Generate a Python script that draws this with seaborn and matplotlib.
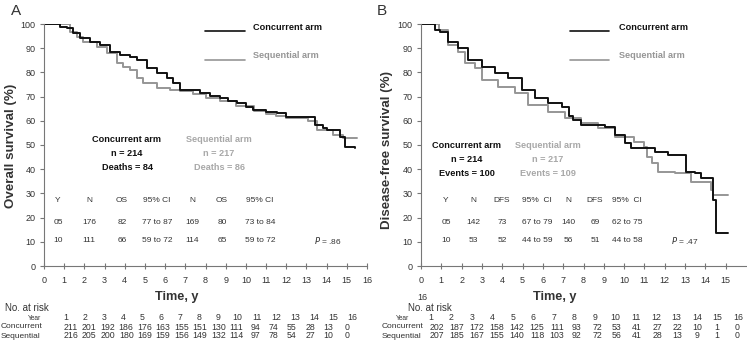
import pandas as pd
import matplotlib.pyplot as plt
import numpy as np
import seaborn as sns

# survival curves (years, % surviving), step functions
a_conc_t = [0, 0.8, 1.12, 1.45, 1.78, 2.28, 2.77, 3.27, 3.76, 4.26, 4.59, 5.08, 5.58, 6.07, 6.4, 6.73,
            7.72, 8.2, 8.71, 9.1, 9.54, 10.0, 10.36, 11.0, 11.52, 12.0, 13.42, 13.83, 14.0, 14.65, 14.9, 15.4]
a_conc_s = [100, 98.9, 98.2, 96.2, 94.1, 92.7, 91.3, 88.6, 87.2, 86.5, 85.1, 81.7, 79.6, 77.6, 75.5, 72.7,
            71.4, 70.3, 69.3, 68.2, 67.2, 65.8, 64.5, 63.8, 63.1, 61.7, 58.3, 56.9, 56.2, 53.4, 49.3, 48.6]
a_seq_t = [0, 1.29, 1.62, 1.95, 2.61, 3.1, 3.6, 3.93, 4.26, 4.59, 4.92, 5.58, 6.24, 6.73, 7.4, 8.0,
           8.7, 9.5, 10.4, 11.0, 11.5, 12.0, 13.1, 13.5, 14.32, 14.82, 15.48]
a_seq_s = [100, 96.8, 94.8, 92.7, 90.6, 87.9, 83.8, 82.4, 81.0, 77.6, 75.5, 73.4, 72.7, 72.2, 71.0, 69.5,
           68.0, 66.0, 64.0, 63.0, 62.0, 61.0, 60.0, 56.2, 54.1, 52.8, 52.8]

b_conc_t = [0, 0.69, 0.93, 1.34, 1.84, 2.33, 2.98, 3.64, 4.29, 4.95, 5.61, 6.26, 6.92, 7.3, 7.5, 7.9,
            9.05, 9.54, 10.03, 10.36, 11.5, 12.16, 13.07, 13.48, 13.8, 14.38, 14.54, 15.12]
b_conc_s = [100, 97.5, 96.8, 92.7, 90.0, 85.1, 82.4, 79.6, 77.6, 72.7, 69.3, 67.2, 65.8, 62.0, 60.3, 58.3,
            57.6, 54.1, 50.7, 48.6, 47.2, 45.9, 39.0, 38.3, 36.2, 27.3, 13.5, 13.5]
b_seq_t = [0, 0.9, 1.34, 1.84, 2.16, 2.66, 2.98, 3.8, 4.62, 5.28, 6.26, 7.08, 7.9, 8.72, 9.54, 10.5,
           11.0, 11.15, 11.35, 11.67, 12.49, 13.3, 14.3, 14.38, 15.12]
b_seq_s = [100, 97.5, 91.3, 88.5, 83.8, 81.7, 76.9, 74.1, 71.4, 66.5, 63.8, 61.0, 59.0, 56.9, 53.4, 51.4,
           49.3, 45.2, 42.4, 39.0, 38.3, 34.8, 31.4, 29.3, 29.3]

years = list(range(1, 17))
a_risk_conc = [211, 201, 192, 186, 176, 163, 155, 151, 130, 111, 94, 74, 55, 28, 13, 0]
a_risk_seq = [216, 205, 200, 180, 169, 159, 156, 149, 132, 114, 97, 78, 54, 27, 10, 0]
b_risk_conc = [202, 187, 172, 158, 142, 125, 111, 93, 72, 53, 41, 27, 22, 10, 1, 0]
b_risk_seq = [207, 185, 167, 155, 140, 118, 103, 92, 72, 56, 41, 28, 13, 9, 1, 0]

a_table = [["Y", "N", "OS", "95% CI", "N", "OS", "95% CI"],
           ["05", "176", "82", "77 to 87", "169", "80", "73 to 84"],
           ["10", "111", "66", "59 to 72", "114", "65", "59 to 72"]]
b_table = [["Y", "N", "DFS", "95%  CI", "N", "DFS", "95%  CI"],
           ["05", "142", "73", "67 to 79", "140", "69", "62 to 75"],
           ["10", "53", "52", "44 to 59", "56", "51", "44 to 58"]]

BLACK = "#111111"
GRAY = "#969696"
TXT = "#333333"

sns.set_style("ticks")
plt.rcParams['font.family'] = ['Liberation Sans', 'DejaVu Sans']

W, H = 747, 342
fig = plt.figure(figsize=(W / 100, H / 100), dpi=100)


def px(x, y):
    return x / W, 1 - y / H


def txt(x, y, s, **kw):
    kw.setdefault('ha', 'center')
    kw.setdefault('va', 'center')
    kw.setdefault('color', TXT)
    fig.text(*px(x, y), s, **kw)


def panel(left, right, curves):
    l, b = px(left, 266)
    r, t = px(right, 24)
    ax = fig.add_axes([l, b, r - l, t - b])
    rows = []
    for arm, (tt, ss) in curves.items():
        rows += [dict(time=a, surv=s, arm=arm) for a, s in zip(tt, ss)]
    df = pd.DataFrame(rows)
    sns.lineplot(data=df, x='time', y='surv', hue='arm', palette={'conc': BLACK, 'seq': GRAY},
                 hue_order=['seq', 'conc'], estimator=None, sort=False, drawstyle='steps-post',
                 linewidth=1.4, legend=False, ax=ax)
    ax.set_xlim(0, 16)
    ax.set_ylim(0, 100)
    ax.set_xticks(range(0, 17))
    ax.set_yticks(range(0, 101, 10))
    ax.set_xlabel('')
    ax.set_ylabel('')
    for sp in ['top', 'right']:
        ax.spines[sp].set_visible(False)
    for sp in ['left', 'bottom']:
        ax.spines[sp].set_color('#777777')
        ax.spines[sp].set_linewidth(0.8)
    ax.tick_params(axis='both', labelsize=6.5, colors='#777777', labelcolor=TXT, width=0.8)
    ax.tick_params(axis='x', direction='inout', length=4, pad=5)
    ax.tick_params(axis='y', length=3, pad=3)
    ax.set_facecolor('none')
    return ax


axA = panel(44, 367, {'conc': (a_conc_t, a_conc_s), 'seq': (a_seq_t, a_seq_s)})
axB = panel(421, 746, {'conc': (b_conc_t, b_conc_s), 'seq': (b_seq_t, b_seq_s)})
axB.set_xticks(range(0, 16))
txt(422, 298, "16", fontsize=6.5)

# panel letters and axis titles
txt(16, 11, "A", fontsize=11)
txt(382, 11, "B", fontsize=11)
txt(11, 146, "Overall survival (%)", fontsize=9.6, fontweight='bold', rotation=90)
txt(387, 150, "Disease-free survival (%)", fontsize=9.6, fontweight='bold', rotation=90)
txt(177, 297, "Time, y", fontsize=9.2, fontweight='bold')
txt(555, 297, "Time, y", fontsize=9.2, fontweight='bold')


def legend(x0, x1, tx):
    for y, c, s in [(31, BLACK, "Concurrent arm"), (60, GRAY, "Sequential arm")]:
        fig.add_artist(plt.Line2D([x0 / W, x1 / W], [1 - y / H] * 2, color=c, lw=1.2))
        txt(tx, y - 4, s, ha='left', fontsize=6.6, fontweight='bold', color=c)


legend(205, 245, 253)
legend(570, 609, 619)


def stats(cx1, cx2, y0, lines1, lines2):
    for i, (s1, s2) in enumerate(zip(lines1, lines2)):
        txt(cx1, y0 + i * 13.5, s1, fontsize=6.6, fontweight='bold', color=BLACK)
        txt(cx2, y0 + i * 13.5, s2, fontsize=6.6, fontweight='bold', color='#a8a8a8')


stats(127, 219, 140, ["Concurrent arm", "n = 214", "Deaths = 84"],
      ["Sequential arm", "n = 217", "Deaths = 86"])
stats(467, 548, 146, ["Concurrent arm", "n = 214", "Events = 100"],
      ["Sequential arm", "n = 217", "Events = 109"])


def table(cols, rows, pxp, ptext):
    for r, y in zip(rows, [200, 222, 240]):
        for x, s in zip(cols, r):
            txt(x, y, s, fontsize=6)
    txt(pxp, 240, ptext, fontsize=6)


table([58, 89, 122, 157, 192, 222, 260], a_table, 328, r"$P$ = .86")
table([446, 473, 502, 537, 568, 595, 627], b_table, 685, r"$P$ = .47")


def at_risk(x_row, x_head, x_year, yr_span, num_span, conc, seq):
    txt(x_head, 308, "No. at risk", ha='left', fontsize=7)
    txt(x_year, 318, "Year", fontsize=4.8)
    txt(x_row, 327, "Concurrent", ha='left', fontsize=6)
    txt(x_row, 336, "Sequential", ha='left', fontsize=6)
    ys = np.linspace(yr_span[0], yr_span[1], len(years))
    ns = np.linspace(num_span[0], num_span[1], len(years))
    for xy, xn, yr, c, s in zip(ys, ns, years, conc, seq):
        txt(xy, 318, str(yr), fontsize=6.3)
        txt(xn, 327, str(c), fontsize=6.3)
        txt(xn, 336, str(s), fontsize=6.3)


at_risk(1, 5, 34, (66, 352), (71, 347), a_risk_conc, a_risk_seq)
at_risk(382, 408, 402, (431, 738), (437, 737), b_risk_conc, b_risk_seq)

fig.savefig('out.png', dpi=100)
